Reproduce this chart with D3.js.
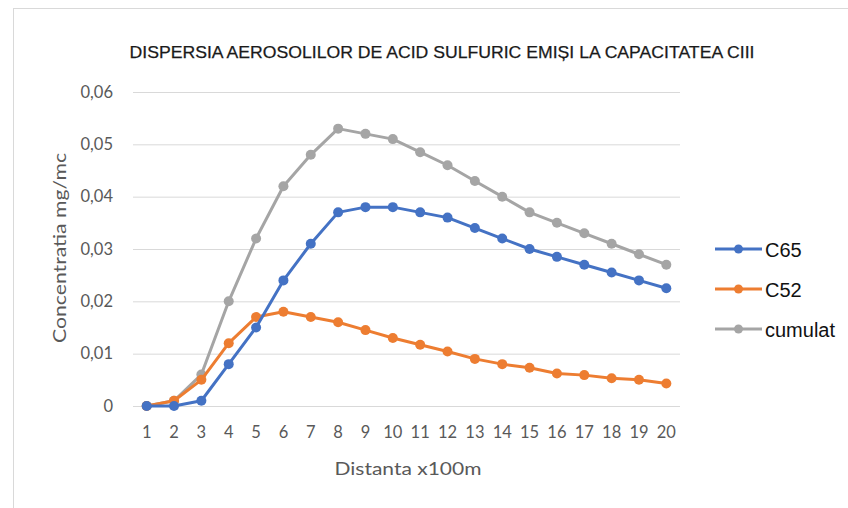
<!DOCTYPE html>
<html><head><meta charset="utf-8">
<script src="https://cdn.jsdelivr.net/npm/d3@7"></script>
<style>body{margin:0;background:#fff}</style>
</head><body><svg id="c" width="848" height="508"></svg>
<script>
const categories = ["1","2","3","4","5","6","7","8","9","10","11","12","13","14","15","16","17","18","19","20"];
const c65 = [0,0,0.001,0.008,0.015,0.024,0.031,0.037,0.038,0.038,0.037,0.036,0.034,0.032,0.030,0.0285,0.027,0.0255,0.024,0.0225];
const c52 = [0,0.001,0.005,0.012,0.017,0.018,0.017,0.016,0.0145,0.013,0.0117,0.0104,0.009,0.008,0.0073,0.0062,0.0059,0.0053,0.005,0.0043];
const cumulat = [0,0.001,0.006,0.020,0.032,0.042,0.048,0.053,0.052,0.051,0.0485,0.046,0.043,0.040,0.037,0.035,0.033,0.031,0.029,0.027];
const yTicks = [0,0.01,0.02,0.03,0.04,0.05,0.06];
const seriesNames = ["C65","C52","cumulat"];
const colors = ["#4472C4","#ED7D31","#A5A5A5"];
const seriesData = [c65,c52,cumulat];

const svg = d3.select("#c");
svg.append("rect").attr("x",13.5).attr("y",8.5).attr("width",850).attr("height",520)
  .attr("fill","#fff").attr("stroke","#d9d9d9");

const x = d3.scaleBand().domain(categories).range([133,680]);
const y = d3.scaleLinear().domain([0,0.06]).range([406,92]);
const fmt = v => v===0 ? "0" : d3.format(".2f")(v).replace(".",",");
const uiFont = "Lato, 'Open Sans', sans-serif";

// gridlines
svg.append("g").selectAll("line").data(yTicks).join("line")
  .attr("x1",133).attr("x2",680).attr("y1",d=>y(d)+0.5).attr("y2",d=>y(d)+0.5)
  .attr("stroke","#d9d9d9").attr("stroke-width",1);

// y axis labels
const ya = svg.append("g").attr("transform","translate(113,0)")
  .call(d3.axisLeft(y).tickValues(yTicks).tickFormat(fmt).tickSize(0).tickPadding(0));
ya.select(".domain").remove();
ya.selectAll("text").attr("fill","#595959").attr("font-family",uiFont).attr("font-size","16.5px");

// x axis labels
const xa = svg.append("g").attr("transform","translate(0,426)")
  .call(d3.axisBottom(x).tickSize(0).tickPadding(0));
xa.select(".domain").remove();
xa.selectAll("text").attr("fill","#595959").attr("font-family",uiFont).attr("font-size","16.5px");

// titles
svg.append("text").attr("x",442).attr("y",58).attr("text-anchor","middle")
  .attr("font-family","'Liberation Sans', Arial, sans-serif").attr("font-size","16.5px").attr("fill","#1a1a1a")
  .attr("stroke","#1a1a1a").attr("stroke-width",0.25)
  .attr("textLength",625).attr("lengthAdjust","spacingAndGlyphs")
  .text("DISPERSIA AEROSOLILOR DE ACID SULFURIC EMIȘI LA CAPACITATEA CIII");
svg.append("text").attr("x",408).attr("y",475).attr("text-anchor","middle")
  .attr("font-family",uiFont).attr("font-size","18px").attr("fill","#595959")
  .attr("textLength",147).attr("lengthAdjust","spacingAndGlyphs")
  .text("Distanta x100m");
svg.append("text").attr("transform","translate(66,248) rotate(-90)").attr("text-anchor","middle")
  .attr("font-family",uiFont).attr("font-size","18px").attr("fill","#595959")
  .attr("textLength",190).attr("lengthAdjust","spacingAndGlyphs")
  .text("Concentratia mg/mc");

// series
const line = d3.line().x((d,i)=>x(categories[i])+x.bandwidth()/2).y(d=>y(d));
[2,1,0].forEach(k=>{
  const g = svg.append("g");
  g.append("path").datum(seriesData[k]).attr("d",line).attr("fill","none")
    .attr("stroke",colors[k]).attr("stroke-width",3).attr("stroke-linejoin","round");
  g.selectAll("circle").data(seriesData[k]).join("circle")
    .attr("cx",(d,i)=>x(categories[i])+x.bandwidth()/2).attr("cy",d=>y(d)).attr("r",5)
    .attr("fill",colors[k]);
});

// legend
const lg = svg.append("g");
seriesNames.forEach((n,i)=>{
  const yy = 249 + i*40;
  lg.append("line").attr("x1",715).attr("x2",762).attr("y1",yy).attr("y2",yy)
    .attr("stroke",colors[i]).attr("stroke-width",3);
  lg.append("circle").attr("cx",738.5).attr("cy",yy).attr("r",4.5).attr("fill",colors[i]);
  lg.append("text").attr("x",765).attr("y",yy+8).attr("font-family","'Liberation Sans', Arial, sans-serif")
    .attr("font-size","20px").attr("fill","#111").text(n);
});
</script></body></html>
